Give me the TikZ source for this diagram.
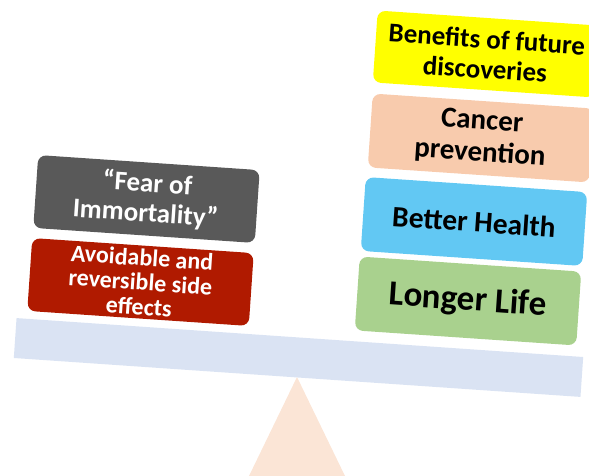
\documentclass[tikz,border=0pt]{standalone}
\usepackage{fontspec}
\setmainfont{Carlito}
\definecolor{beamblue}{HTML}{DAE3F3}
\definecolor{fulcrum}{HTML}{FBE5D6}
\definecolor{feargray}{HTML}{595959}
\definecolor{sidered}{HTML}{B01A00}
\definecolor{futureyellow}{HTML}{FFFF00}
\definecolor{cancerpeach}{HTML}{F8CBAD}
\definecolor{healthblue}{HTML}{62C8F3}
\definecolor{lifegreen}{HTML}{A9D18E}
\newcommand{\boxfont}[2]{\bfseries\fontsize{#1}{#2}\selectfont}
\tikzset{
  weight/.style = {rounded corners = 8pt, rotate = -3.9, minimum width = 222pt,
                   minimum height = 73pt, text width = 215pt, align = flush center,
                   inner sep = 0pt},
  lighttext/.style = {weight, text = white},
  darktext/.style = {weight, text = black}
}
\begin{document}
\begin{tikzpicture}[x = 1pt, y = -1pt]
  \useasboundingbox (0, 0) rectangle (589, 476);
  % fulcrum and beam
  \fill[fulcrum] (297, 377) -- (345, 476) -- (249, 476) -- cycle;
  \node[fill = beamblue, minimum width = 568pt, minimum height = 40pt, rotate = -3.93,
        inner sep = 0pt] (beam) at (298.5, 357.5) {};
  % left pan
  \node[lighttext, fill = feargray, font = \boxfont{27}{30}] (fear) at (146.5, 199)
       {``Fear of\\ Immortality''};
  \node[lighttext, fill = sidered, font = \boxfont{24}{24.5}] (side) at (140.5, 282)
       {Avoidable and\\ reversible side\\ effects};
  % right pan
  \node[darktext, fill = futureyellow, minimum height = 72pt, font = \boxfont{27}{30}] (future) at (486, 54)
       {Benefits of future\\ discoveries};
  \node[darktext, fill = cancerpeach, minimum height = 74pt, font = \boxfont{29}{32}] (cancer) at (481, 138)
       {Cancer\\ prevention};
  \node[darktext, fill = healthblue, minimum height = 74pt, font = \boxfont{29.5}{34}] (health) at (474, 221.5)
       {Better Health};
  \node[darktext, fill = lifegreen, minimum height = 74pt, font = \boxfont{35}{40}] (life) at (468, 301)
       {Longer Life};
\end{tikzpicture}
\end{document}
